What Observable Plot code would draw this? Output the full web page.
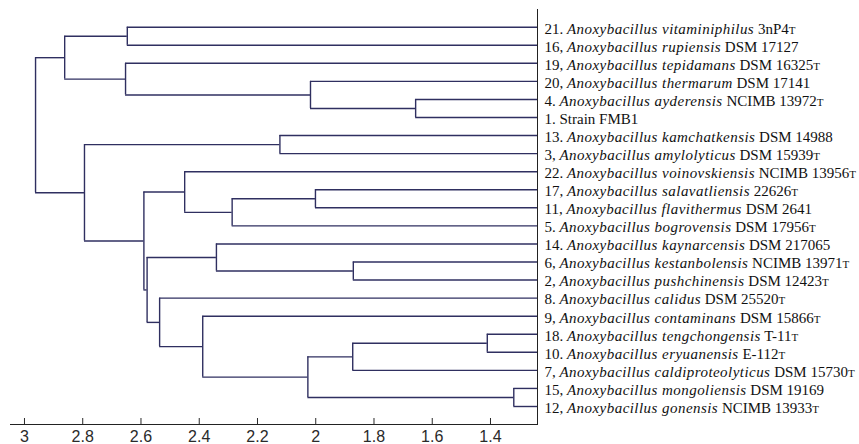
<!DOCTYPE html>
<html><head><meta charset="utf-8">
<script src="https://cdn.jsdelivr.net/npm/d3@7"></script>
<script src="https://cdn.jsdelivr.net/npm/@observablehq/plot@0.6"></script>
<style>body{margin:0;background:#fff}</style>
</head><body><div id="chart"></div>
<script>
// Leaves in dendrogram order (top to bottom)
const leafIds = ["21","16","19","20","4","1","13","3","22","17","11","5","14","6","2","8","9","18","10","7","15","12"];
const leafPrefix = ["21. ","16, ","19, ","20, ","4. ","1. ","13. ","3, ","22. ","17, ","11, ","5. ","14. ","6, ","2, ","8. ","9, ","18. ","10. ","7, ","15, ","12, "];
const leafTaxon = [
  "Anoxybacillus vitaminiphilus","Anoxybacillus rupiensis","Anoxybacillus tepidamans","Anoxybacillus thermarum",
  "Anoxybacillus ayderensis","","Anoxybacillus kamchatkensis","Anoxybacillus amylolyticus",
  "Anoxybacillus voinovskiensis","Anoxybacillus salavatliensis","Anoxybacillus flavithermus","Anoxybacillus bogrovensis",
  "Anoxybacillus kaynarcensis","Anoxybacillus kestanbolensis","Anoxybacillus pushchinensis","Anoxybacillus calidus",
  "Anoxybacillus contaminans","Anoxybacillus tengchongensis","Anoxybacillus eryuanensis","Anoxybacillus caldiproteolyticus",
  "Anoxybacillus mongoliensis","Anoxybacillus gonensis"];
const leafStrain = ["3nP4","DSM 17127","DSM 16325","DSM 17141","NCIMB 13972","Strain FMB1","DSM 14988","DSM 15939",
  "NCIMB 13956","22626","DSM 2641","DSM 17956","DSM 217065","NCIMB 13971","DSM 12423","DSM 25520",
  "DSM 15866","T-11","E-112","DSM 15730","DSM 19169","NCIMB 13933"];
const leafTypeStrain = [true,false,true,false,true,false,false,true,true,true,false,true,false,true,true,true,true,true,true,true,false,true];
const leafHeight = 1.2386;

// Merges (linkage): child A, child B, joining height (distance)
const mergeA = ["4","20","19","21","N3","13","17","N6","22","6","14","18","N11","15","N12","9","8","N10","N8","N5","N4"];
const mergeB = ["1","N0","N1","16","N2","3","11","5","N7","2","N9","10","7","12","N13","N14","N15","N16","N17","N18","N19"];
const mergeHeight = [1.657,2.018,2.653,2.647,2.862,2.123,2.001,2.287,2.450,1.871,2.341,1.411,1.873,1.320,2.027,2.388,2.536,2.579,2.590,2.794,2.962];

const xTicks = [3,2.8,2.6,2.4,2.2,2,1.8,1.6,1.4];

// build geometry in data units
const pos = new Map();
leafIds.forEach((id, i) => pos.set(id, {h: leafHeight, y: i}));
const vert = [], horiz = [];
mergeHeight.forEach((h, i) => {
  const a = pos.get(mergeA[i]), b = pos.get(mergeB[i]);
  const y = (a.y + b.y) / 2;
  pos.set("N" + i, {h, y});
  vert.push({x: h, y1: a.y, y2: b.y});
  horiz.push({y: a.y, x1: h, x2: a.h});
  horiz.push({y: b.y, x1: h, x2: b.h});
});
const leaves = leafIds.map((id, i) => ({i, label: leafPrefix[i] + leafTaxon[i] + " " + leafStrain[i]}));

const lineColor = "#2f2f60";
const chart = Plot.plot({
  width: 859, height: 444,
  marginLeft: 10, marginRight: 322, marginTop: 9, marginBottom: 20,
  style: {fontSize: "16px", fontFamily: "Liberation Sans, Arial, sans-serif", color: "#2a2a2a", background: "#fff"},
  x: {domain: [3.048, leafHeight], ticks: xTicks, tickFormat: d => String(d), tickSize: -6, tickPadding: 12, label: null},
  y: {domain: [0, 21], range: [26.7, 406], axis: null},
  marks: [
    Plot.frame({anchor: "bottom", stroke: "#222"}),
    Plot.frame({anchor: "right", stroke: "#222"}),
    Plot.ruleY(horiz, {y: "y", x1: "x1", x2: "x2", stroke: lineColor, strokeWidth: 1.4}),
    Plot.ruleX(vert, {x: "x", y1: "y1", y2: "y2", stroke: lineColor, strokeWidth: 1.4}),
    Plot.text(leaves, {x: leafHeight, y: "i", text: "label", textAnchor: "start", dx: 7, dy: 1.5,
      fontFamily: "Liberation Serif, Times New Roman, serif", fontSize: 15, fill: "#111"})
  ]
});
document.getElementById("chart").appendChild(chart);

// rich-format the leaf labels: italic taxon names, small-cap type-strain mark
const NS = "http://www.w3.org/2000/svg";
chart.querySelectorAll('g[aria-label="text"] text').forEach((t, k) => {
  t.textContent = "";
  const add = (s, attrs) => { const ts = document.createElementNS(NS, "tspan"); ts.textContent = s;
    for (const a in attrs) ts.setAttribute(a, attrs[a]); t.appendChild(ts); };
  add(leafPrefix[k], {});
  if (leafTaxon[k]) { add(leafTaxon[k], {"font-style": "italic", "letter-spacing": "0.45"}); add(" ", {}); }
  add(leafStrain[k], {});
  if (leafTypeStrain[k]) add("T", {"font-size": "11px"});
});
</script>
</body></html>
